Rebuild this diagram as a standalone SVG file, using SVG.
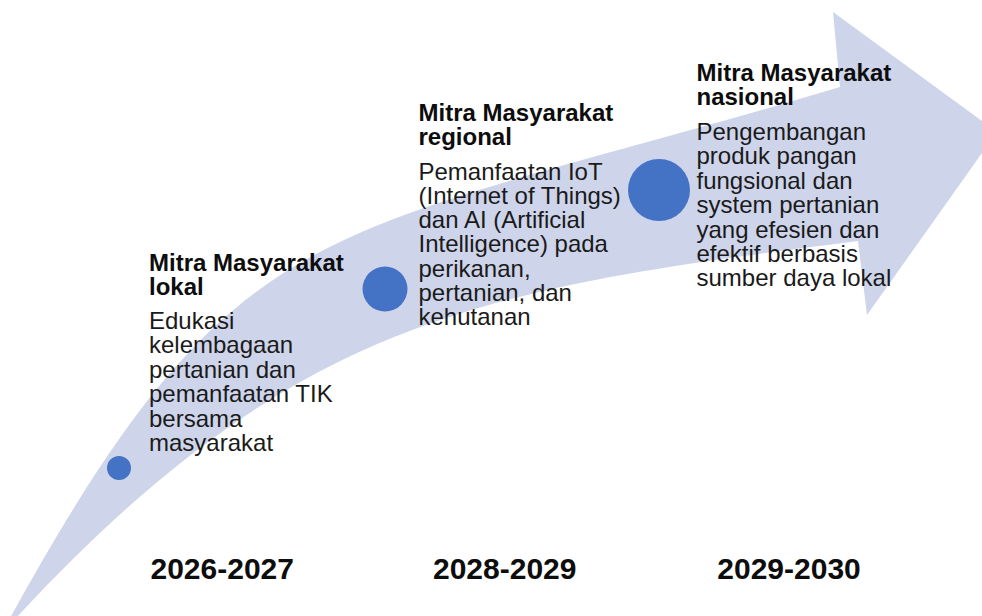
<svg xmlns="http://www.w3.org/2000/svg" width="982" height="616" viewBox="0 0 982 616">
<style>
.band{fill:#CED4EA;stroke:none}
.dot{fill:#4472C4}
.h{font-family:"Liberation Sans",Arial,sans-serif;font-weight:bold;font-size:24px;fill:#0d0d0d}
.b{font-family:"Liberation Sans",Arial,sans-serif;font-size:24px;fill:#1a1a1a}
.yr{font-family:"Liberation Sans",Arial,sans-serif;font-weight:bold;font-size:30px;fill:#0d0d0d}
</style>
<rect width="982" height="616" fill="#ffffff"/>
<g id="timeline-arrow">
<path class="band" d="M 10,618 C 242,198 320,243 840,87 L 833,12 L 997,132 L 867,315 L 858,241 C 478,289 293,319 16,618 Z"/>
</g>
<g id="node-lokal">
<circle class="dot" cx="119" cy="468" r="12"/>
<text class="h"><tspan x="149" y="271">Mitra Masyarakat</tspan><tspan x="149" y="295">lokal</tspan></text>
<text class="b"><tspan x="149" y="329">Edukasi</tspan><tspan x="149" y="353.4">kelembagaan</tspan><tspan x="149" y="377.8">pertanian dan</tspan><tspan x="149" y="402.2">pemanfaatan TIK</tspan><tspan x="149" y="426.6">bersama</tspan><tspan x="149" y="451">masyarakat</tspan></text>
</g>
<g id="node-regional">
<circle class="dot" cx="385" cy="289" r="22.5"/>
<text class="h"><tspan x="418.5" y="121">Mitra Masyarakat</tspan><tspan x="418.5" y="145">regional</tspan></text>
<text class="b"><tspan x="418.5" y="179.5">Pemanfaatan IoT</tspan><tspan x="418.5" y="203.75">(Internet of Things)</tspan><tspan x="418.5" y="228">dan AI (Artificial</tspan><tspan x="418.5" y="252.25">Intelligence) pada</tspan><tspan x="418.5" y="276.5">perikanan,</tspan><tspan x="418.5" y="300.75">pertanian, dan</tspan><tspan x="418.5" y="325">kehutanan</tspan></text>
</g>
<g id="node-nasional">
<circle class="dot" cx="659" cy="190" r="31"/>
<text class="h"><tspan x="696.5" y="81">Mitra Masyarakat</tspan><tspan x="696.5" y="105">nasional</tspan></text>
<text class="b"><tspan x="696.5" y="140">Pengembangan</tspan><tspan x="696.5" y="164.4">produk pangan</tspan><tspan x="696.5" y="188.8">fungsional dan</tspan><tspan x="696.5" y="213.2">system pertanian</tspan><tspan x="696.5" y="237.6">yang efesien dan</tspan><tspan x="696.5" y="262">efektif berbasis</tspan><tspan x="696.5" y="286.4">sumber daya lokal</tspan></text>
</g>
<g id="year-labels">
<text class="yr" x="150.5" y="579">2026-2027</text>
<text class="yr" x="433" y="578.5">2028-2029</text>
<text class="yr" x="717.3" y="578.5">2029-2030</text>
</g>
</svg>
